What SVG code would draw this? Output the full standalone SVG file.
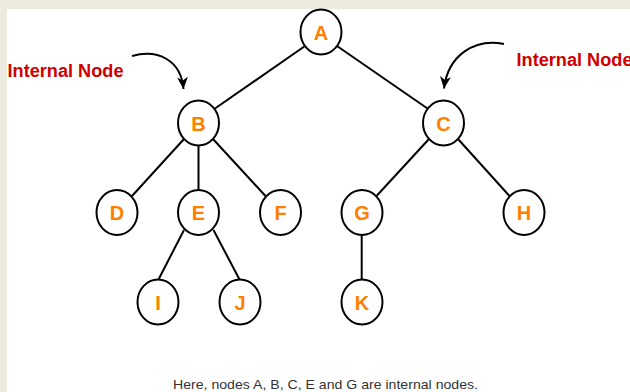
<svg xmlns="http://www.w3.org/2000/svg" width="630" height="392" viewBox="0 0 630 392">
<style>
.node ellipse{fill:#fff;stroke:#000;stroke-width:2}
.node text{font-family:"Liberation Sans",Arial,sans-serif;font-weight:bold;font-size:20px;fill:#ff8000;text-anchor:middle}
.edge{stroke:#000;stroke-width:2;fill:none}
.lbl{font-family:"Liberation Sans",Arial,sans-serif;font-weight:bold;font-size:18px;fill:#d00000}
.cap{font-family:"Liberation Sans",Arial,sans-serif;font-size:13.5px;fill:#333}
</style>
<defs>
<marker id="ah" viewBox="0 0 12 12" markerWidth="12" markerHeight="12" refX="12" refY="6" orient="auto" markerUnits="userSpaceOnUse">
<path d="M0,0.5 L12,6 L0,11.5 L3.5,6 z" fill="#000"/>
</marker>
</defs>
<rect width="630" height="392" fill="#eceadf"/>
<rect x="7" y="9" width="623" height="383" fill="#fff"/>
<g id="connectors">
<line class="edge" x1="305" y1="46" x2="215" y2="108.5"/>
<line class="edge" x1="337" y1="46" x2="427.5" y2="108.5"/>
<line class="edge" x1="184" y1="139" x2="132" y2="196"/>
<line class="edge" x1="198.5" y1="145.5" x2="198.5" y2="190"/>
<line class="edge" x1="213" y1="139" x2="265.5" y2="196"/>
<line class="edge" x1="429" y1="139" x2="376.5" y2="196"/>
<line class="edge" x1="458" y1="139" x2="509.5" y2="196"/>
<line class="edge" x1="184" y1="230" x2="158.5" y2="279.5"/>
<line class="edge" x1="213.5" y1="230" x2="239.5" y2="279.5"/>
<line class="edge" x1="361.7" y1="235" x2="361.7" y2="279.5"/>
<path class="edge" d="M132,56 C158,49 181,60 183.5,89" marker-end="url(#ah)"/>
<path class="edge" d="M504,44 C475,38 448,55 444,88.5" marker-end="url(#ah)"/>
</g>
<g id="node-A" class="node"><ellipse cx="321" cy="32" rx="20.5" ry="22.5"/><text x="321" y="39.5">A</text></g>
<g id="node-B" class="node"><ellipse cx="198.5" cy="123" rx="20.5" ry="22.5"/><text x="198.5" y="130.5">B</text></g>
<g id="node-C" class="node"><ellipse cx="443.5" cy="123" rx="20.5" ry="22.5"/><text x="443.5" y="130.5">C</text></g>
<g id="node-D" class="node"><ellipse cx="117" cy="212.5" rx="20.5" ry="22.5"/><text x="117" y="220">D</text></g>
<g id="node-E" class="node"><ellipse cx="198.5" cy="212.5" rx="20.5" ry="22.5"/><text x="198.5" y="220">E</text></g>
<g id="node-F" class="node"><ellipse cx="280.5" cy="212.5" rx="20.5" ry="22.5"/><text x="280.5" y="220">F</text></g>
<g id="node-G" class="node"><ellipse cx="362" cy="212.5" rx="20.5" ry="22.5"/><text x="362" y="220">G</text></g>
<g id="node-H" class="node"><ellipse cx="524" cy="212.5" rx="20.5" ry="22.5"/><text x="524" y="220">H</text></g>
<g id="node-I" class="node"><ellipse cx="158" cy="302" rx="20.5" ry="22.5"/><text x="158" y="309.5">I</text></g>
<g id="node-J" class="node"><ellipse cx="240" cy="302" rx="20.5" ry="22.5"/><text x="240" y="309.5">J</text></g>
<g id="node-K" class="node"><ellipse cx="362" cy="302" rx="20.5" ry="22.5"/><text x="362" y="309.5">K</text></g>
<g id="label-left"><text class="lbl" x="7.5" y="77.3" textLength="116" lengthAdjust="spacingAndGlyphs">Internal Node</text></g>
<g id="label-right"><text class="lbl" x="516.5" y="66" textLength="116" lengthAdjust="spacingAndGlyphs">Internal Node</text></g>
<g id="caption"><text class="cap" x="325.5" y="389" text-anchor="middle" textLength="305" lengthAdjust="spacingAndGlyphs">Here, nodes A, B, C, E and G are internal nodes.</text></g>
</svg>
